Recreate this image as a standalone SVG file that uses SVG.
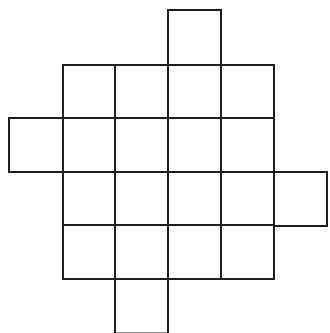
<svg xmlns="http://www.w3.org/2000/svg" width="330" height="333" viewBox="0 0 330 333">
<style>
.c{fill:none;stroke:#1e1e1e;stroke-width:2;stroke-linejoin:miter}
</style>
<rect width="330" height="333" fill="#ffffff"/>
<g id="r0"><rect class="c" x="168" y="10" width="53" height="55"/></g>
<g id="r1">
<rect class="c" x="63" y="65" width="52" height="53"/>
<rect class="c" x="115" y="65" width="53" height="53"/>
<rect class="c" x="168" y="65" width="53" height="53"/>
<rect class="c" x="221" y="65" width="53" height="53"/>
</g>
<g id="r2">
<rect class="c" x="9" y="118" width="54" height="54"/>
<rect class="c" x="63" y="118" width="52" height="54"/>
<rect class="c" x="115" y="118" width="53" height="54"/>
<rect class="c" x="168" y="118" width="53" height="54"/>
<rect class="c" x="221" y="118" width="53" height="54"/>
</g>
<g id="r3">
<rect class="c" x="63" y="172" width="52" height="53"/>
<rect class="c" x="115" y="172" width="53" height="53"/>
<rect class="c" x="168" y="172" width="53" height="53"/>
<rect class="c" x="221" y="172" width="53" height="53"/>
<rect class="c" x="274" y="172" width="53" height="54"/>
</g>
<g id="r4">
<rect class="c" x="63" y="225" width="52" height="54"/>
<rect class="c" x="115" y="225" width="53" height="54"/>
<rect class="c" x="168" y="225" width="53" height="54"/>
<rect class="c" x="221" y="225" width="53" height="54"/>
</g>
<g id="r5"><rect class="c" x="115" y="279" width="53" height="54.5"/></g>
</svg>
